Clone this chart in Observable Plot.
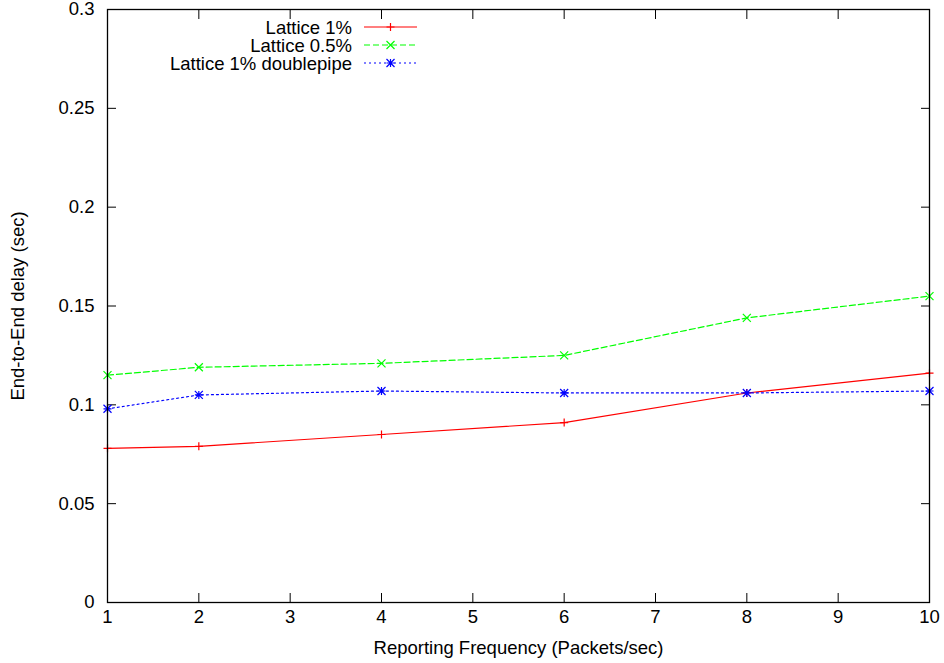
<!DOCTYPE html>
<html>
<head>
<meta charset="utf-8">
<script src="https://cdn.jsdelivr.net/npm/d3@7"></script>
<script src="https://cdn.jsdelivr.net/npm/@observablehq/plot@0.6"></script>
<style>
  body { margin: 0; background: #fff; }
  #chart svg { display: block; }
</style>
</head>
<body>
<div id="chart"></div>
<script>
// Reporting frequency (packets/sec) and end-to-end delay (sec) per configuration
const frequency = [1, 2, 4, 6, 8, 10];
const lattice1 = [0.078, 0.079, 0.085, 0.091, 0.106, 0.116];
const lattice05 = [0.115, 0.119, 0.121, 0.125, 0.144, 0.155];
const lattice1Double = [0.098, 0.105, 0.107, 0.106, 0.106, 0.107];
const seriesNames = ["Lattice 1%", "Lattice 0.5%", "Lattice 1% doublepipe"];
const xTicks = [1, 2, 3, 4, 5, 6, 7, 8, 9, 10];
const yTicks = [0, 0.05, 0.1, 0.15, 0.2, 0.25, 0.3];
const xLabel = "Reporting Frequency (Packets/sec)";
const yLabel = "End-to-End delay (sec)";

// gnuplot-style point symbols; the radius passed to Plot is the half-extent
const half = (size) => Math.sqrt(size / Math.PI);
const plusSymbol = {
  draw(ctx, size) { const r = half(size);
    ctx.moveTo(-r, 0); ctx.lineTo(r, 0); ctx.moveTo(0, -r); ctx.lineTo(0, r); }
};
const timesSymbol = {
  draw(ctx, size) { const r = half(size);
    ctx.moveTo(-r, -r); ctx.lineTo(r, r); ctx.moveTo(-r, r); ctx.lineTo(r, -r); }
};
const starSymbol = {
  draw(ctx, size) { plusSymbol.draw(ctx, size); timesSymbol.draw(ctx, size); }
};

const styles = [
  {name: seriesNames[0], values: lattice1, color: "#ff0000", dash: null, symbol: plusSymbol},
  {name: seriesNames[1], values: lattice05, color: "#00ff00", dash: "6,3", symbol: timesSymbol},
  {name: seriesNames[2], values: lattice1Double, color: "#0000ff", dash: "2,3", symbol: starSymbol}
];

const rows = styles.flatMap((s) => frequency.map((f, i) => ({series: s.name, x: f, y: s.values[i]})));

const font = "'Liberation Sans', Arial, Helvetica, sans-serif";
const fontSize = 18.5;
const pointR = 4;

// Legend in the upper left of the plotting area, text right-aligned before a line sample
function legend(index, scales, values, dimensions) {
  const g = d3.create("svg:g")
    .attr("font-family", font)
    .attr("font-size", fontSize);
  const textRight = dimensions.marginLeft + 245;
  const lineStart = textRight + 12, lineEnd = textRight + 65;
  styles.forEach((s, i) => {
    const y = dimensions.marginTop + 18 + i * 18;
    g.append("text")
      .attr("x", textRight).attr("y", y)
      .attr("text-anchor", "end").attr("dominant-baseline", "central")
      .attr("fill", "#000")
      .text(s.name);
    g.append("line")
      .attr("x1", lineStart).attr("x2", lineEnd).attr("y1", y).attr("y2", y)
      .attr("stroke", s.color).attr("stroke-width", 1.2)
      .attr("stroke-dasharray", s.dash);
    g.append("path")
      .attr("transform", `translate(${(lineStart + lineEnd) / 2},${y})`)
      .attr("d", d3.symbol(s.symbol, pointR * pointR * Math.PI)())
      .attr("fill", "none").attr("stroke", s.color).attr("stroke-width", 1.2);
  });
  return g.node();
}

const chart = Plot.plot({
  width: 944,
  height: 663,
  marginTop: 9,
  marginLeft: 107,
  marginRight: 15,
  marginBottom: 61,
  style: {fontFamily: font, fontSize: `${fontSize}px`, color: "#000", background: "#fff"},
  x: {domain: [1, 10]},
  y: {domain: [0, 0.3]},
  marks: [
    Plot.axisX(xTicks, {anchor: "bottom", tickSize: -9, tickPadding: 9 + 7, label: null, fontSize}),
    Plot.axisX(xTicks, {anchor: "top", tickSize: -9, tickFormat: () => "", label: null}),
    Plot.axisY(yTicks, {anchor: "left", tickSize: -9, tickPadding: 9 + 13, tickFormat: d3.format("~g"), label: null, fontSize}),
    Plot.axisY(yTicks, {anchor: "right", tickSize: -9, tickFormat: () => "", label: null}),
    ...styles.map((s) => Plot.line(rows.filter((r) => r.series === s.name), {
      x: "x", y: "y", stroke: s.color, strokeWidth: 1.2, strokeDasharray: s.dash
    })),
    ...styles.map((s) => Plot.dot(rows.filter((r) => r.series === s.name), {
      x: "x", y: "y", symbol: () => s.symbol, r: pointR, fill: "none", stroke: s.color, strokeWidth: 1.2
    })),
    Plot.frame({stroke: "#000", strokeWidth: 1.3}),
    Plot.text([xLabel], {frameAnchor: "bottom", textAnchor: "middle", lineAnchor: "middle", dy: 46, text: (d) => d, fill: "#000", fontSize}),
    Plot.text([yLabel], {frameAnchor: "left", textAnchor: "middle", lineAnchor: "middle", rotate: -90, dx: -89, text: (d) => d, fill: "#000", fontSize}),
    legend
  ]
});

document.getElementById("chart").appendChild(chart);
</script>
</body>
</html>
